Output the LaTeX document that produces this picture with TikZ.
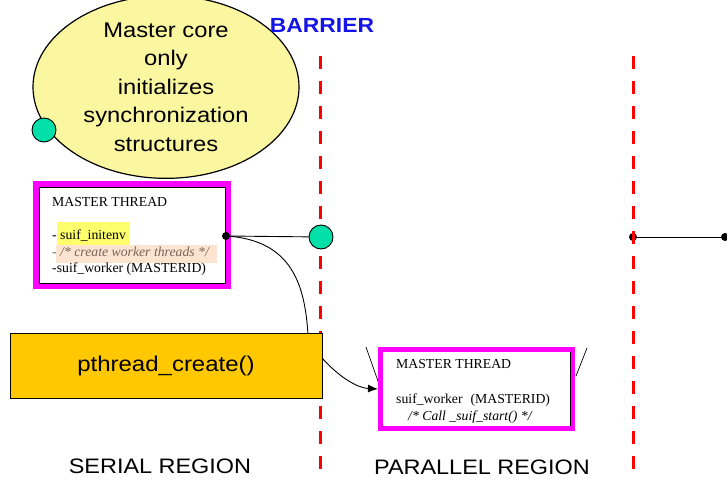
\documentclass[tikz,border=0pt]{standalone}
\usepackage{fontspec}
\setmainfont{Liberation Sans}[FakeStretch=1.12]
\newfontfamily\codefont{Liberation Serif}
\usetikzlibrary{shapes.geometric,arrows.meta}

\definecolor{notefill}{RGB}{251,247,160}
\definecolor{syncgreen}{RGB}{0,224,168}
\definecolor{callfill}{RGB}{255,200,0}
\definecolor{framemag}{RGB}{255,0,255}
\definecolor{barrierred}{RGB}{255,0,0}
\definecolor{barrierblue}{RGB}{20,20,230}
\definecolor{hlyellow}{RGB}{255,255,110}
\definecolor{hlpeach}{RGB}{253,228,208}
\definecolor{commentgray}{RGB}{120,100,90}

\tikzset{
  barrierline/.style={draw=barrierred, line width=3bp, dash pattern=on 13bp off 12bp},
  syncdot/.style={circle, fill=syncgreen, draw=black, line width=0.9bp, minimum size=24bp, inner sep=0pt},
  pindot/.style={circle, fill=black, minimum size=8bp, inner sep=0pt},
  threadframe/.style={draw=framemag, line width=#1, inner sep=0pt},
  innerframe/.style={draw=black, line width=0.8bp, inner sep=0pt},
  codeline/.style={anchor=base west, inner sep=0pt, font=\codefont\fontsize{13.8}{16}\selectfont},
  bigtext/.style={font=\fontsize{21.3}{28.7}\selectfont},
  link/.style={draw=black, line width=0.9bp},
}

\begin{document}
\begin{tikzpicture}[x=1bp, y=-1bp]
\useasboundingbox[fill=white] (0,0) rectangle (727,482);

% note bubble about the master core
\node[ellipse, draw=black, line width=1.2bp, fill=notefill, minimum width=266bp, minimum height=160bp,
      inner sep=0pt, align=center, bigtext] (note) at (166,87)
  {Master core\\only\\initializes\\synchronization\\structures};
\node[syncdot] (syncNote) at (44,130) {};

\node[font=\bfseries\fontsize{20.5}{24}\selectfont, text=barrierblue] (barrier) at (322,25) {BARRIER};

% region labels
\node[font=\fontsize{21}{24}\selectfont] (serial) at (160,466) {SERIAL REGION};
\node[font=\fontsize{21}{24}\selectfont] (parallel) at (482,467) {PARALLEL REGION};

% link leaving the parallel region
\node[pindot] (dotB) at (633,237) {};
\node[pindot] (dotC) at (725,237) {};
\draw[link] (dotB) -- (dotC);

% barriers
\coordinate (barLtop) at (320,56);
\coordinate (barLbot) at (320,476);
\coordinate (barRtop) at (633,56);
\coordinate (barRbot) at (633,476);
\draw[barrierline] (barLtop) -- (barLbot);
\draw[barrierline] (barRtop) -- (barRbot);

% master thread in the serial region
\fill[hlyellow] (57,222) rectangle (130,245);
\fill[hlpeach] (56,245) rectangle (217,263);
\node[threadframe=6bp, minimum width=192bp, minimum height=102bp] (mt1) at (132,235) {};
\node[innerframe, minimum width=186bp, minimum height=96bp] (mt1in) at (132,235) {};
\node[codeline] (mt1title) at (52,206.5) {MASTER THREAD};
\node[codeline] (mt1l1) at (52,240) {- suif\_initenv};
\node[codeline, text=commentgray] (mt1l2) at (52,256.5) {- \itshape /* create worker threads */};
\node[codeline] (mt1l3) at (52,273) {-suif\_worker (MASTERID)};

\node[pindot] (dotA) at (226,236) {};

% master thread in the parallel region
\draw[link, line width=0.7bp] (366,347) -- (379,384);
\draw[link, line width=0.7bp] (587,348) -- (576,376);
\node[threadframe=5bp, minimum width=192bp, minimum height=79bp] (mt2) at (476.5,389) {};
\draw[black, line width=0.8bp] (570,352) -- (570,426);
\node[codeline] (mt2title) at (396,368.5) {MASTER THREAD};
\node[codeline] (mt2l1) at (396,403.5) {suif\_worker\hspace{8bp}(MASTERID)};
\node[codeline, font=\codefont\itshape\fontsize{13.8}{16}\selectfont] (mt2l2) at (408,420) {/* Call \_suif\_start() */};

% thread creation call: curve passes behind the call box
\coordinate (bendIn) at (308,335);
\coordinate (bendOut) at (322,358);
\draw[link, -{Latex[length=10bp,width=8bp]}] (dotA.center)
  .. controls (292,240) and (305,285) .. (bendIn)
  .. controls (310,348) and (316,352) .. (bendOut)
  .. controls (340,378) and (358,388) .. (mt2.west);

\node[draw=black, line width=0.9bp, fill=callfill, minimum width=312bp, minimum height=65bp,
      inner sep=0pt, font=\fontsize{21.5}{24}\selectfont] (call) at (166,365.5) {pthread\_create()};

% barrier synchronisation point
\node[syncdot] (syncA) at (321,237) {};
\draw[link] (dotA) -- (syncA);
\end{tikzpicture}
\end{document}
